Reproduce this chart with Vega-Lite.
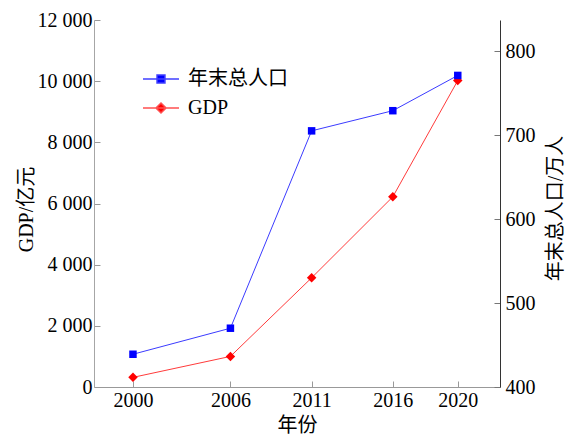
{
  "$schema": "https://vega.github.io/schema/vega-lite/v6.json",
  "width": 406,
  "height": 367,
  "autosize": {"type": "none"},
  "padding": {"left": 94, "top": 20, "right": 66, "bottom": 47},
  "background": "white",
  "config": {
    "view": {"stroke": null},
    "font": "Liberation Serif, Noto Sans CJK SC",
    "axis": {
      "labelFont": "Liberation Serif, Noto Sans CJK SC",
      "titleFont": "Liberation Serif, Noto Sans CJK SC",
      "labelFontSize": 20,
      "titleFontSize": 20,
      "titleFontWeight": "normal",
      "labelColor": "#000000",
      "titleColor": "#000000",
      "grid": false,
      "tickSize": -6,
      "domainColor": "#999999",
      "tickColor": "#999999"
    },
    "legend": {
      "labelFont": "Liberation Serif, Noto Sans CJK SC",
      "labelFontSize": 20,
      "labelColor": "#000000"
    }
  },
  "data": {
    "values": [
      {"year": 2000, "series": "GDP", "value": 315},
      {"year": 2006, "series": "GDP", "value": 1000},
      {"year": 2011, "series": "GDP", "value": 3570},
      {"year": 2016, "series": "GDP", "value": 6220},
      {"year": 2020, "series": "GDP", "value": 10020},
      {"year": 2000, "series": "年末总人口", "value": 439},
      {"year": 2006, "series": "年末总人口", "value": 470},
      {"year": 2011, "series": "年末总人口", "value": 705},
      {"year": 2016, "series": "年末总人口", "value": 729},
      {"year": 2020, "series": "年末总人口", "value": 771}
    ]
  },
  "encoding": {
    "x": {
      "field": "year",
      "type": "quantitative",
      "scale": {"domain": [1997.6, 2022.6], "nice": false, "zero": false},
      "axis": {
        "title": "年份",
        "values": [2000, 2006, 2011, 2016, 2020],
        "format": "d",
        "labelPadding": 9,
        "titleY": 38,
        "titleBaseline": "middle",
        "labelFlush": false,
        "labelOverlap": false
      }
    }
  },
  "layer": [
    {
      "transform": [{"filter": "datum.series === 'GDP'"}],
      "encoding": {
        "y": {
          "field": "value",
          "type": "quantitative",
          "scale": {"domain": [0, 12000], "nice": false},
          "axis": {
            "title": "GDP/亿元",
            "orient": "left",
            "values": [0, 2000, 4000, 6000, 8000, 10000, 12000],
            "labelExpr": "replace(format(datum.value, ','), ',', ' ')",
            "labelPadding": 8,
            "titleAngle": -90,
            "titleX": -68,
            "titleY": 189,
            "titleAlign": "center",
            "titleBaseline": "middle",
            "labelFlush": false,
            "labelOverlap": false,
            "domainColor": "#a6a6a6"
          }
        }
      },
      "layer": [
        {"mark": {"type": "line", "color": "#ff3b3b", "strokeWidth": 1}},
        {"mark": {"type": "point", "shape": "diamond", "filled": true, "color": "#ff0000", "size": 90, "opacity": 1}}
      ]
    },
    {
      "transform": [{"filter": "datum.series === '年末总人口'"}],
      "encoding": {
        "y": {
          "field": "value",
          "type": "quantitative",
          "scale": {"domain": [400, 837], "nice": false, "zero": false},
          "axis": {
            "title": "年末总人口/万人",
            "orient": "right",
            "values": [400, 500, 600, 700, 800],
            "titleAngle": -90,
            "titleX": 55,
            "titleY": 188,
            "titleAlign": "center",
            "titleBaseline": "middle",
            "labelPadding": 11,
            "labelFlush": false,
            "labelOverlap": false,
            "domainColor": "#333333",
            "tickColor": "#777777"
          }
        }
      },
      "layer": [
        {"mark": {"type": "line", "color": "#3b3bff", "strokeWidth": 1}},
        {"mark": {"type": "point", "shape": "square", "filled": true, "color": "#0000ff", "size": 56, "opacity": 1}}
      ]
    },
    {
      "mark": {"type": "point", "filled": true, "opacity": 0, "strokeWidth": 1},
      "encoding": {
        "y": {"field": "value", "type": "quantitative", "axis": null},
        "color": {
          "field": "series",
          "type": "nominal",
          "scale": {"domain": ["年末总人口", "GDP"], "range": ["#0000ff", "#ff0000"]},
          "legend": {
            "title": null,
            "orient": "none",
            "legendX": 48,
            "legendY": 40,
            "padding": 0,
            "symbolSize": 1296,
            "symbolOpacity": 1,
            "labelOffset": 8,
            "rowPadding": -10
          }
        },
        "stroke": {
          "field": "series",
          "type": "nominal",
          "scale": {"domain": ["年末总人口", "GDP"], "range": ["#4040ff", "#ff5050"]},
          "legend": {
            "title": null,
            "orient": "none",
            "legendX": 48,
            "legendY": 40,
            "padding": 0,
            "symbolSize": 1296,
            "symbolOpacity": 1,
            "labelOffset": 8,
            "rowPadding": -10
          }
        },
        "shape": {
          "field": "series",
          "type": "nominal",
          "scale": {
            "domain": ["年末总人口", "GDP"],
            "range": [
              "M-1,0H1M-0.22,-0.22H0.22V0.22H-0.22Z",
              "M-1,0H1M0,-0.28L0.28,0L0,0.28L-0.28,0Z"
            ]
          },
          "legend": {
            "title": null,
            "orient": "none",
            "legendX": 48,
            "legendY": 40,
            "padding": 0,
            "symbolSize": 1296,
            "symbolOpacity": 1,
            "labelOffset": 8,
            "rowPadding": -10
          }
        }
      }
    }
  ],
  "resolve": {"scale": {"y": "independent"}}
}
